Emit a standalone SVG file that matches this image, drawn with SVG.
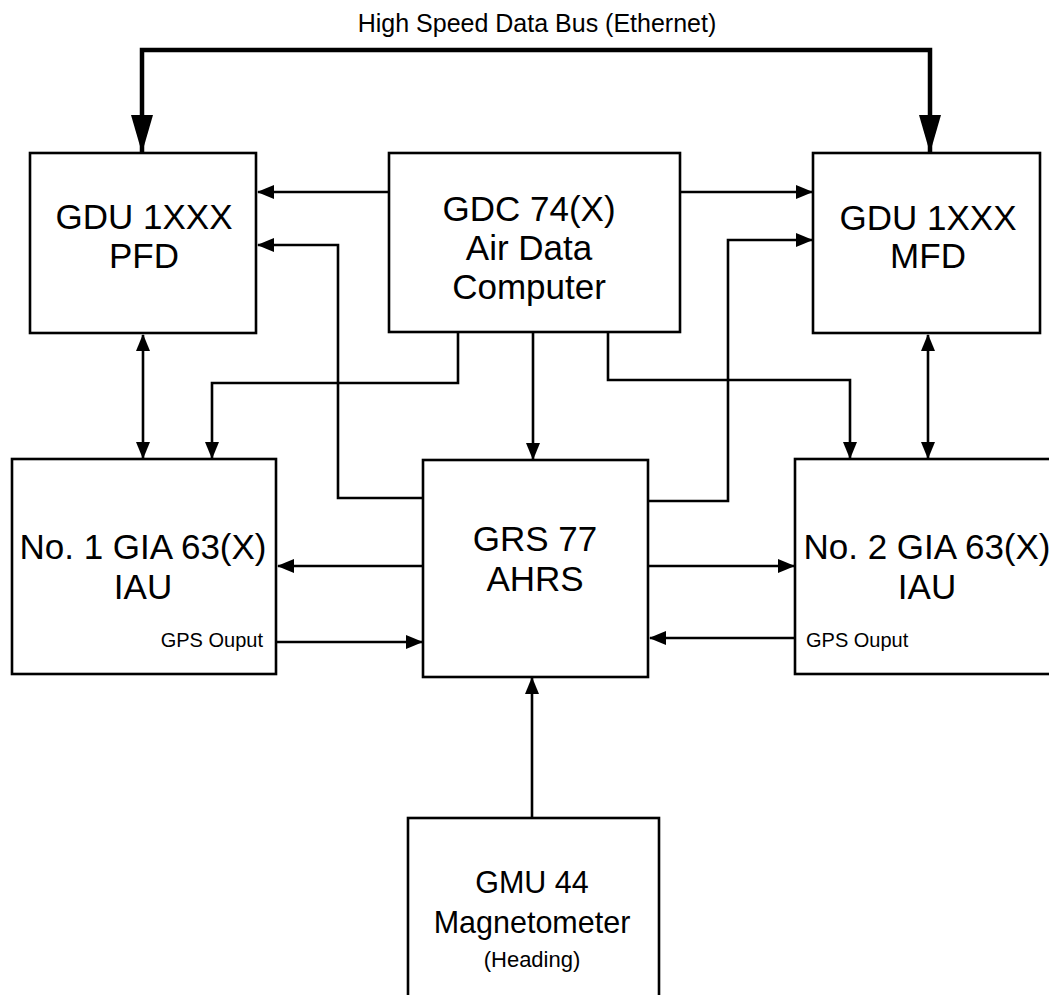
<svg xmlns="http://www.w3.org/2000/svg" width="1049" height="995" viewBox="0 0 1049 995">
<style>
.box{fill:#fff;stroke:#000;stroke-width:2.6}
.ln{fill:none;stroke:#000;stroke-width:2.6}
.bus{fill:none;stroke:#000;stroke-width:4.5}
text{font-family:"Liberation Sans",Arial,sans-serif;fill:#000;text-anchor:middle}
.big{font-size:35px}
.mid{font-size:30.5px}
.sm{font-size:20px}
</style>
<defs>
<marker id="a" markerUnits="userSpaceOnUse" markerWidth="17" markerHeight="14" viewBox="0 0 17 14" refX="16" refY="7" orient="auto-start-reverse">
<path d="M0,0 L17,7 L0,14 z" fill="#000"/>
</marker>
<marker id="b" markerUnits="userSpaceOnUse" markerWidth="38" markerHeight="22" viewBox="0 0 38 22" refX="37" refY="11" orient="auto-start-reverse">
<path d="M0,0 L38,11 L0,22 z" fill="#000"/>
</marker>
</defs>
<text x="537" y="32" style="font-size:25px">High Speed Data Bus (Ethernet)</text>
<g id="connectors">
<path class="bus" d="M142,152 V50 H930 V152" marker-start="url(#b)" marker-end="url(#b)"/>
<path class="ln" d="M389,192 H258" marker-end="url(#a)"/>
<path class="ln" d="M680,192 H812" marker-end="url(#a)"/>
<path class="ln" d="M423,498 H338 V245 H258" marker-end="url(#a)"/>
<path class="ln" d="M648,501 H728 V240 H812" marker-end="url(#a)"/>
<path class="ln" d="M458,333 V383 H212 V458" marker-end="url(#a)"/>
<path class="ln" d="M533,333 V459" marker-end="url(#a)"/>
<path class="ln" d="M608,333 V380 H850 V458" marker-end="url(#a)"/>
<path class="ln" d="M143,335 V458" marker-start="url(#a)" marker-end="url(#a)"/>
<path class="ln" d="M928,335 V458" marker-start="url(#a)" marker-end="url(#a)"/>
<path class="ln" d="M423,566 H278" marker-end="url(#a)"/>
<path class="ln" d="M276,642 H422" marker-end="url(#a)"/>
<path class="ln" d="M648,566 H794" marker-end="url(#a)"/>
<path class="ln" d="M795,638 H650" marker-end="url(#a)"/>
<path class="ln" d="M532,818 V678" marker-end="url(#a)"/>
</g>
<g id="pfd">
<rect class="box" x="30" y="153" width="226" height="180"/>
<text class="big" x="144" y="229">GDU 1XXX</text>
<text class="big" x="144" y="268">PFD</text>
</g>
<g id="gdc">
<rect class="box" x="389" y="153" width="291" height="179"/>
<text class="big" x="529" y="221">GDC 74(X)</text>
<text class="big" x="529" y="260">Air Data</text>
<text class="big" x="529" y="299">Computer</text>
</g>
<g id="mfd">
<rect class="box" x="813" y="153" width="227" height="180"/>
<text class="big" x="928" y="230">GDU 1XXX</text>
<text class="big" x="928" y="268">MFD</text>
</g>
<g id="gia1">
<rect class="box" x="12" y="459" width="264" height="215"/>
<text class="big" x="143" y="559">No. 1 GIA 63(X)</text>
<text class="big" x="143" y="599">IAU</text>
<text class="sm" x="263" y="647" style="text-anchor:end">GPS Ouput</text>
</g>
<g id="grs">
<rect class="box" x="423" y="460" width="225" height="217"/>
<text class="big" x="535" y="551">GRS 77</text>
<text class="big" x="535" y="591">AHRS</text>
</g>
<g id="gia2">
<rect class="box" x="795" y="459" width="264" height="215"/>
<text class="big" x="927" y="559">No. 2 GIA 63(X)</text>
<text class="big" x="927" y="599">IAU</text>
<text class="sm" x="806" y="647" style="text-anchor:start">GPS Ouput</text>
</g>
<g id="gmu">
<rect class="box" x="408" y="818" width="251" height="200"/>
<text class="mid" x="532" y="893">GMU 44</text>
<text class="mid" x="532" y="933">Magnetometer</text>
<text x="532" y="967" style="font-size:22px">(Heading)</text>
</g>
</svg>
